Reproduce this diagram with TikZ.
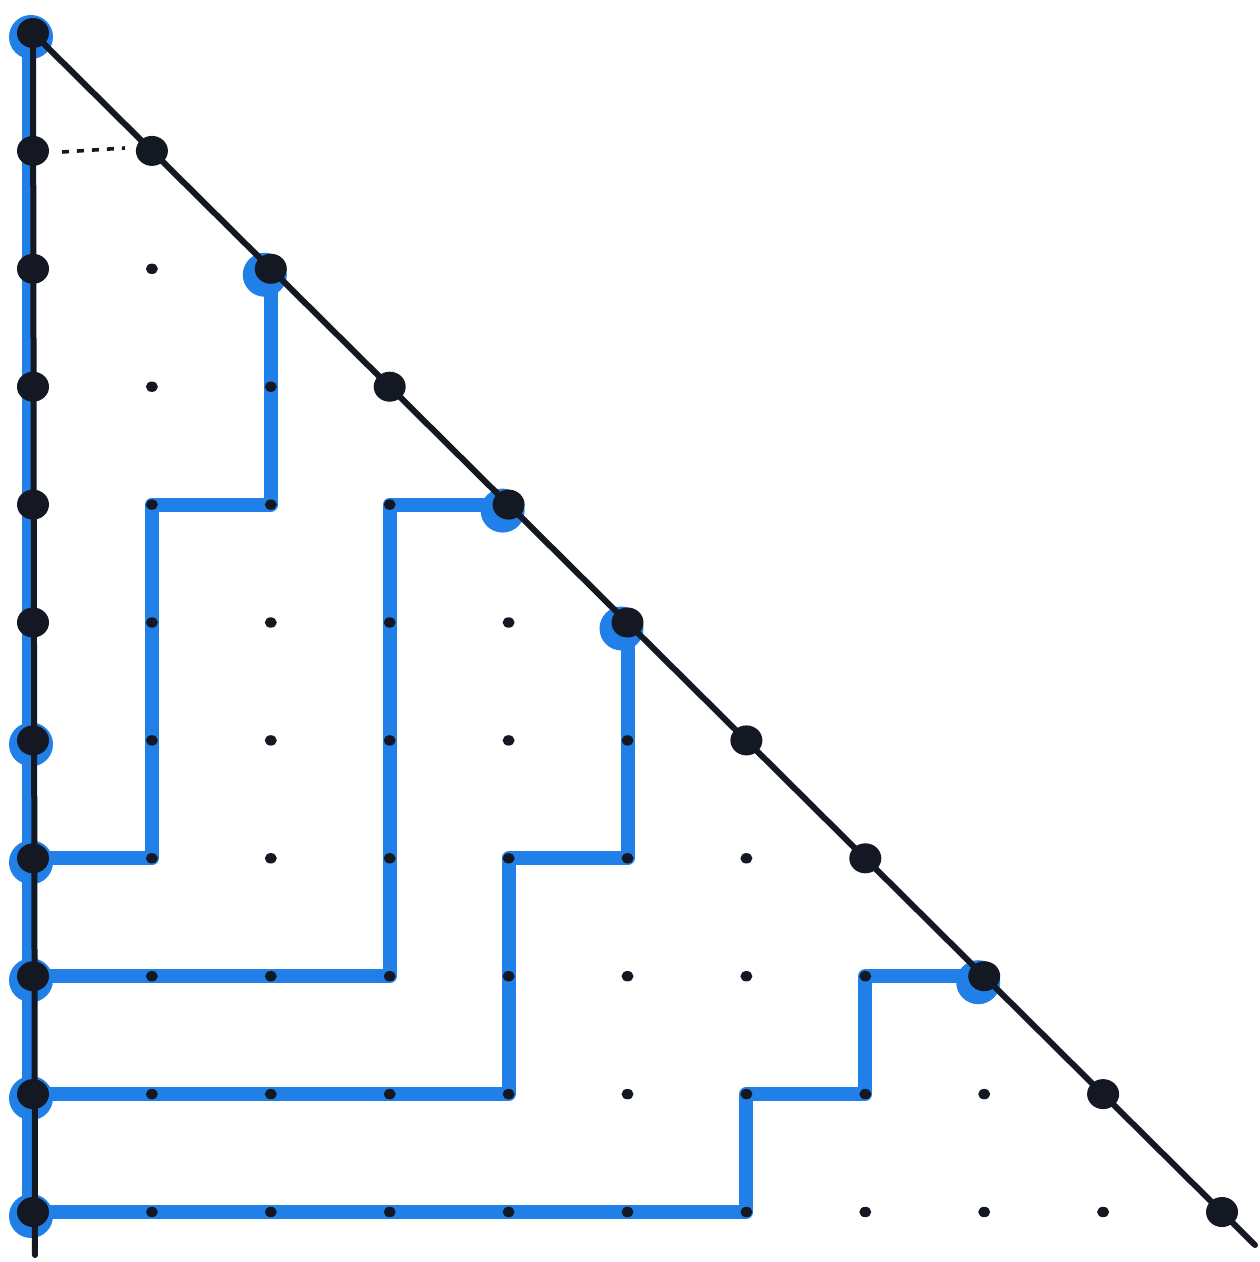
\documentclass[tikz,border=0pt]{standalone}
\definecolor{penblue}{RGB}{33,128,232}
\definecolor{ink}{RGB}{20,24,34}
\tikzset{
  bluepath/.style={draw=penblue, line width=7pt, line join=round, line cap=round},
  blueblob/.style={fill=penblue},
  inkline/.style={draw=ink, line width=3pt, line cap=round},
  bigdot/.style={fill=ink},
  smalldot/.style={fill=ink},
  dotline/.style={draw=ink, line width=1.8pt, dash pattern=on 3.5pt off 4pt}
}
\begin{document}
\begin{tikzpicture}[x=0.5pt,y=-0.5pt]
\fill[white] (0,0) rectangle (1259,1262);
\useasboundingbox (0,0) rectangle (1259,1262);
% grid coordinates
\foreach \c in {0,...,10}{
  \foreach \r in {0,...,10}{
    \coordinate (p\c-\r) at ({33+118.9*\c},{33+117.9*\r});
  }
}
\coordinate (leftend) at (35,1255);
\coordinate (diagend) at (1255,1245);
\coordinate (dash1) at (62,152);
\coordinate (dash2) at (125,148);
% blue paths
\draw[bluepath] ([xshift=-2pt]p0-0) -- ([xshift=-2pt]p0-10);
\draw[bluepath] (p2-2) -- (p2-4) -- (p1-4) -- (p1-7) -- (p0-7);
\draw[bluepath] (p4-4) -- (p3-4) -- (p3-8) -- (p0-8);
\draw[bluepath] (p5-5) -- (p5-7) -- (p4-7) -- (p4-9) -- (p0-9);
\draw[bluepath] (p8-8) -- (p7-8) -- (p7-9) -- (p6-9) -- (p6-10) -- (p0-10);
% blue blobs
\foreach \p in {p0-0,p0-6,p0-7,p0-8,p0-9,p0-10}{
  \fill[blueblob] ([xshift=-1pt,yshift=-2pt]\p) circle [radius=11pt];
}
\foreach \p in {p2-2,p4-4,p5-5,p8-8}{
  \fill[blueblob] ([xshift=-3pt,yshift=-3pt]\p) circle [radius=11pt];
}
% black lines
\draw[inkline] (p0-0) -- (leftend);
\draw[inkline] (p0-0) -- (diagend);
\draw[dotline] (dash1) -- (dash2);
% small dots
\foreach \c in {1,...,9}{
  \pgfmathtruncatemacro{\rs}{\c+1}
  \foreach \r in {\rs,...,10}{
    \fill[smalldot] (p\c-\r) ellipse [x radius=3pt, y radius=2.6pt];
  }
}
% big dots
\foreach \r in {0,...,10}{
  \fill[bigdot] (p0-\r) ellipse [x radius=8pt, y radius=7.5pt];
}
\foreach \i in {1,...,10}{
  \fill[bigdot] (p\i-\i) ellipse [x radius=8pt, y radius=7.5pt];
}
\end{tikzpicture}
\end{document}
